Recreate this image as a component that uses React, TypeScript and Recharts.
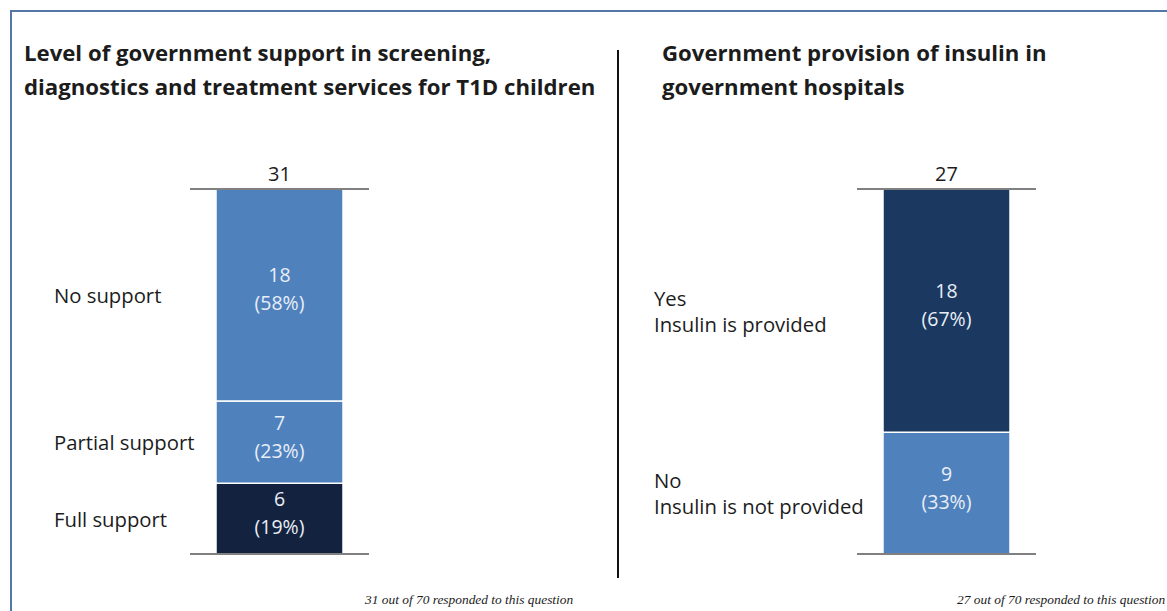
import { BarChart, Bar, XAxis, YAxis, ReferenceLine, LabelList } from "recharts";

// left panel: support level
const supportLevels = [["Full support"], ["Partial support"], ["No support"]];
const supportCounts = [6, 7, 18];
const supportShares = [19, 23, 58];
const supportColors = ["#13223e", "#4f81bd", "#4f81bd"];

// right panel: insulin provision
const insulinAnswers = [
  ["No", "Insulin is not provided"],
  ["Yes", "Insulin is provided"],
];
const insulinCounts = [9, 18];
const insulinShares = [33, 67];
const insulinColors = ["#4f81bd", "#1a3860"];

const respondentsAsked = 70;

const FONT = "'Open Sans', sans-serif";
const TEXT = "#1c1c1c";

interface PanelProps {
  counts: number[];
  shares: number[];
  colors: string[];
  labels: string[][];
  width: number;
  margin: { top: number; right: number; bottom: number; left: number };
  labelGap: number;
}

function StackPanel({ counts, shares, colors, labels, width, margin, labelGap }: PanelProps) {
  const total = counts.reduce((a, b) => a + b, 0);
  const row: Record<string, number | string> = { name: "all" };
  counts.forEach((c, i) => (row["s" + i] = c));

  return (
    <BarChart width={width} height={611} data={[row]} margin={margin} barSize={127}>
      <XAxis dataKey="name" hide />
      <YAxis hide domain={[0, total]} />
      {counts.map((_, i) => (
        <Bar
          key={i}
          dataKey={"s" + i}
          stackId="a"
          fill={colors[i]}
          stroke="#ffffff"
          strokeWidth={1.5}
          isAnimationActive={false}
        >
          <LabelList
            dataKey={"s" + i}
            content={(p: any) => {
              const cx = p.x + p.width / 2;
              const cy = p.y + p.height / 2 - 6;
              const lines = labels[i];
              const ly = p.y + p.height / 2 - ((lines.length - 1) * 26) / 2;
              return (
                <g>
                  <text x={cx} y={cy - 14} textAnchor="middle" dominantBaseline="central"
                    fill="#e8eef7" fontSize={19.5} fontFamily={FONT}>
                    {counts[i]}
                  </text>
                  <text x={cx} y={cy + 14} textAnchor="middle" dominantBaseline="central"
                    fill="#e8eef7" fontSize={19.5} fontFamily={FONT}>
                    {`(${shares[i]}%)`}
                  </text>
                  {lines.map((t, k) => (
                    <text key={k} x={p.x - labelGap} y={ly + k * 26} dominantBaseline="central"
                      fill={TEXT} fontSize={20.3} fontFamily={FONT}>
                      {t}
                    </text>
                  ))}
                </g>
              );
            }}
          />
        </Bar>
      ))}
      <ReferenceLine y={0} stroke="#808080" strokeWidth={2} />
      <ReferenceLine
        y={total}
        stroke="#808080"
        strokeWidth={2}
        label={{ value: String(total), position: "top", offset: 8, fill: TEXT, fontSize: 20, fontFamily: FONT }}
      />
    </BarChart>
  );
}

const titleStyle: React.CSSProperties = {
  position: "absolute",
  top: 36,
  fontFamily: FONT,
  fontWeight: 700,
  fontSize: 22.2,
  lineHeight: "34px",
  color: TEXT,
  whiteSpace: "nowrap",
};

const noteStyle: React.CSSProperties = {
  position: "absolute",
  top: 592,
  fontFamily: "'Liberation Serif', serif",
  fontStyle: "italic",
  fontSize: 13.4,
  color: TEXT,
  whiteSpace: "nowrap",
};

export default function App() {
  const supportTotal = supportCounts.reduce((a, b) => a + b, 0);
  const insulinTotal = insulinCounts.reduce((a, b) => a + b, 0);
  return (
    <div style={{ position: "absolute", left: 0, top: 0, width: 1167, height: 611, overflow: "hidden", background: "#fff" }}>
      <div style={{ position: "absolute", left: 10, top: 10, width: 1300, height: 800, border: "2px solid #5577a8" }} />
      <div style={{ position: "absolute", left: 617, top: 50, width: 2, height: 528, background: "#111" }} />

      <div style={{ ...titleStyle, left: 24 }}>
        Level of government support in screening,
        <br />
        diagnostics and treatment services for T1D children
      </div>
      <div style={{ ...titleStyle, left: 662 }}>
        Government provision of insulin in
        <br />
        government hospitals
      </div>

      <div style={{ position: "absolute", left: 0, top: 0 }}>
        <StackPanel
          counts={supportCounts}
          shares={supportShares}
          colors={supportColors}
          labels={supportLevels}
          width={618}
          margin={{ top: 189, right: 249, bottom: 57, left: 190 }}
          labelGap={162}
        />
      </div>
      <div style={{ position: "absolute", left: 618, top: 0 }}>
        <StackPanel
          counts={insulinCounts}
          shares={insulinShares}
          colors={insulinColors}
          labels={insulinAnswers}
          width={549}
          margin={{ top: 189, right: 131, bottom: 57, left: 239 }}
          labelGap={229}
        />
      </div>

      <div style={{ ...noteStyle, left: 365 }}>
        {supportTotal} out of {respondentsAsked} responded to this question
      </div>
      <div style={{ ...noteStyle, left: 957 }}>
        {insulinTotal} out of {respondentsAsked} responded to this question
      </div>
    </div>
  );
}
